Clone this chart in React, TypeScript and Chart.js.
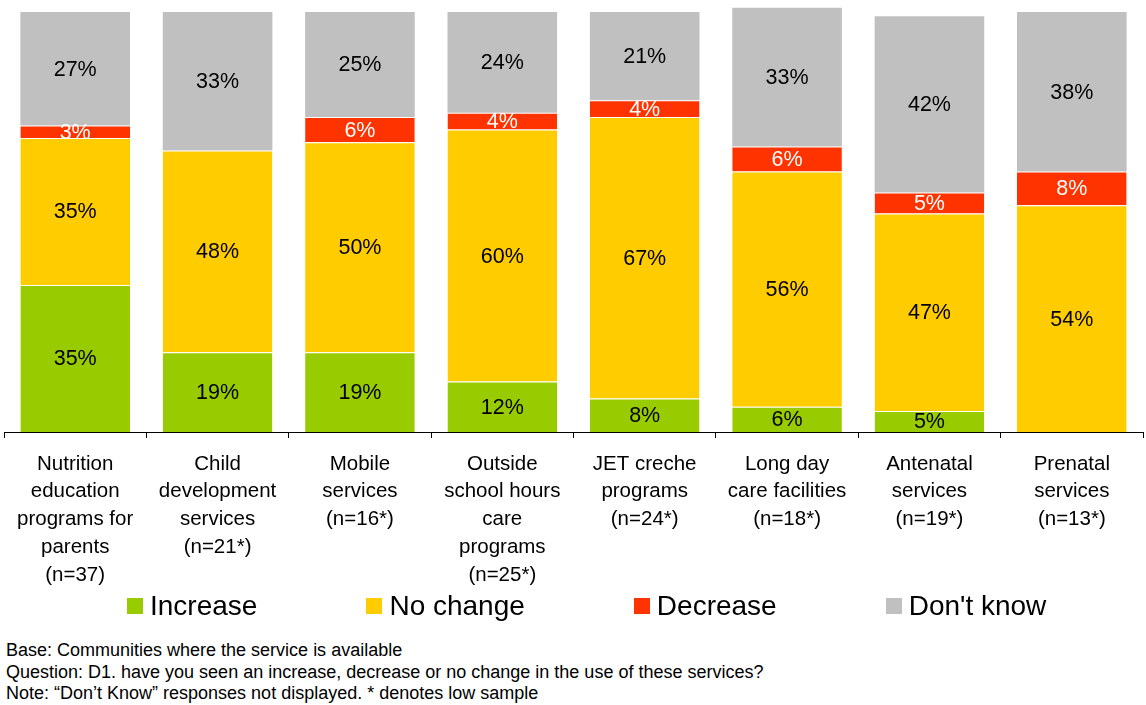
import React, { useEffect, useRef } from "react";
import { Chart, registerables } from "chart.js";

Chart.register(...registerables);

const categories: string[][] = [
  ["Nutrition", "education", "programs for", "parents", "(n=37)"],
  ["Child", "development", "services", "(n=21*)"],
  ["Mobile", "services", "(n=16*)"],
  ["Outside", "school hours", "care", "programs", "(n=25*)"],
  ["JET creche", "programs", "(n=24*)"],
  ["Long day", "care facilities", "(n=18*)"],
  ["Antenatal", "services", "(n=19*)"],
  ["Prenatal", "services", "(n=13*)"],
];

const increase = [35, 19, 19, 12, 8, 6, 5, 0];
const noChange = [35, 48, 50, 60, 67, 56, 47, 54];
const decrease = [3, 0, 6, 4, 4, 6, 5, 8];
const dontKnow = [27, 33, 25, 24, 21, 33, 42, 38];

const seriesNames = ["Increase", "No change", "Decrease", "Don't know"];
const seriesColors = ["#99CC00", "#FFCC00", "#FF3300", "#C0C0C0"];
const labelColors = ["#000000", "#000000", "#FFFFFF", "#000000"];

const footnotes = [
  "Base: Communities where the service is available",
  "Question: D1. have you seen an increase, decrease or no change in the use of these services?",
  "Note: \u201cDon\u2019t Know\u201d responses not displayed. * denotes low sample",
];

const FONT = "'Liberation Sans', Arial, sans-serif";

const valueLabelPlugin = {
  id: "valueLabels",
  afterDatasetsDraw(chart: any) {
    const ctx = chart.ctx;
    ctx.save();
    ctx.font = `21.5px ${FONT}`;
    ctx.textAlign = "center";
    ctx.textBaseline = "middle";
    chart.data.datasets.forEach((ds: any, di: number) => {
      const meta = chart.getDatasetMeta(di);
      meta.data.forEach((bar: any, i: number) => {
        const v = ds.data[i];
        if (!v) return;
        const cy = (bar.y + bar.base) / 2;
        ctx.fillStyle = labelColors[di];
        ctx.fillText(`${v}%`, bar.x, cy + 1);
      });
    });
    ctx.restore();
  },
};

export default function App() {
  const canvasRef = useRef<HTMLCanvasElement | null>(null);

  useEffect(() => {
    if (!canvasRef.current) return;
    const series = [increase, noChange, decrease, dontKnow];
    const chart = new Chart(canvasRef.current, {
      type: "bar",
      data: {
        labels: categories,
        datasets: series.map((d, i) => ({
          label: seriesNames[i],
          data: d,
          backgroundColor: seriesColors[i],
          borderColor: "rgba(255,255,255,0.75)",
          borderWidth: i < 3 ? { top: 1, bottom: 0, left: 0, right: 0 } : 0,
          borderSkipped: false,
          barPercentage: 0.77,
          categoryPercentage: 1,
        })),
      },
      options: {
        responsive: false,
        animation: false,
        maintainAspectRatio: false,
        layout: { padding: { top: 3.6, left: 4, right: 3, bottom: 0 } },
        plugins: {
          legend: { display: false },
          tooltip: { enabled: false },
        },
        scales: {
          x: {
            stacked: true,
            grid: {
              display: true,
              drawOnChartArea: false,
              offset: true,
              tickLength: 6,
              color: "#000000",
              lineWidth: 1,
            },
            border: { display: true, color: "#000000", width: 1 },
            ticks: {
              autoSkip: false,
              maxRotation: 0,
              minRotation: 0,
              padding: 12,
              color: "#000000",
              font: { family: FONT, size: 20.5, lineHeight: 1.36 },
            },
            afterFit(scale: any) {
              scale.height = 158;
            },
          },
          y: {
            stacked: true,
            display: false,
            min: 0,
            max: 102,
          },
        },
      },
      plugins: [valueLabelPlugin],
    });
    return () => chart.destroy();
  }, []);

  return (
    <div
      style={{
        position: "absolute",
        left: 0,
        top: 0,
        width: 1146,
        height: 705,
        background: "#ffffff",
        fontFamily: FONT,
        color: "#000",
      }}
    >
      <canvas
        ref={canvasRef}
        width={1146}
        height={590}
        style={{ position: "absolute", left: 0, top: 0, width: 1146, height: 590 }}
      />
      <div
        style={{
          position: "absolute",
          left: 127,
          top: 588,
          height: 36,
          display: "flex",
          alignItems: "center",
          gap: 109,
          fontSize: 28,
          whiteSpace: "nowrap",
        }}
      >
        {seriesNames.map((n, i) => (
          <div key={n} style={{ display: "flex", alignItems: "center" }}>
            <span
              style={{
                display: "inline-block",
                width: 16,
                height: 16,
                background: seriesColors[i],
                marginRight: 7,
              }}
            />
            <span>{n}</span>
          </div>
        ))}
      </div>
      <div
        style={{
          position: "absolute",
          left: 6,
          top: 640,
          fontSize: 18,
          lineHeight: "21.5px",
          whiteSpace: "nowrap",
        }}
      >
        {footnotes.map((t) => (
          <div key={t}>{t}</div>
        ))}
      </div>
    </div>
  );
}
